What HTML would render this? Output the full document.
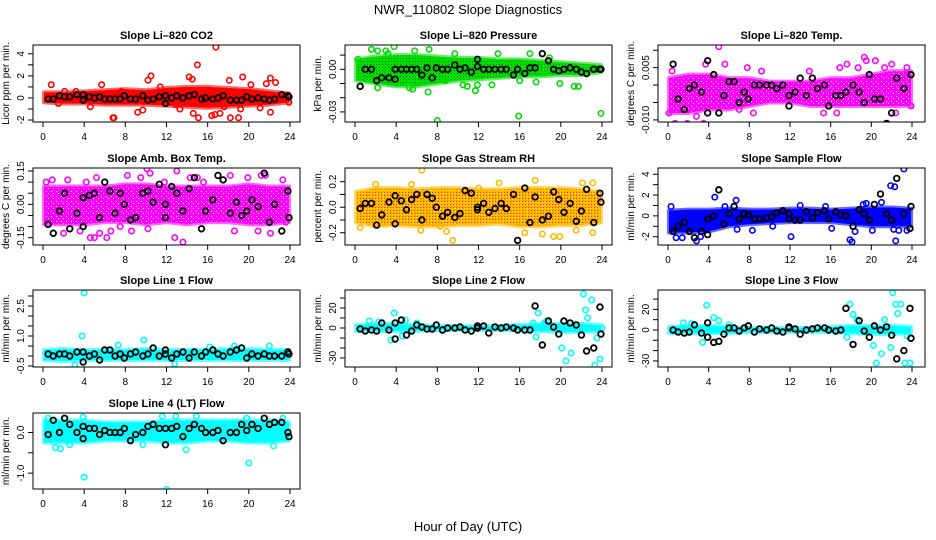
<!DOCTYPE html>
<html><head><meta charset="utf-8"><style>
html,body{margin:0;padding:0;background:#fff;}
svg{display:block;font-family:"Liberation Sans",sans-serif;}
</style></head><body>
<svg id="chart" width="936" height="540" viewBox="0 0 936 540" xmlns="http://www.w3.org/2000/svg">
<defs>
<pattern id="rhpat" width="3" height="3" patternUnits="userSpaceOnUse"><rect width="3" height="3" fill="#ffb300"/><rect x="0" y="0" width="1" height="1" fill="#ff2a00"/><rect x="2" y="1" width="1" height="1" fill="#ffff00"/></pattern>
<pattern id="grpat" width="3" height="3" patternUnits="userSpaceOnUse"><rect width="3" height="3" fill="#00dd00"/><rect x="1" y="1" width="1" height="1" fill="#007700"/></pattern>
<pattern id="mgpat" width="5" height="5" patternUnits="userSpaceOnUse"><rect width="5" height="5" fill="#ff00ff"/><rect x="1" y="1" width="1" height="1" fill="#ffffff"/><rect x="3" y="3" width="1" height="1" fill="#ffffff"/></pattern>
</defs>
<text x="468" y="14" text-anchor="middle" font-size="13">NWR_110802  Slope Diagnostics</text>
<text x="468" y="531" text-anchor="middle" font-size="13">Hour of Day (UTC)</text>
<g id="plots"></g>
</svg>
<script>
// shared sampling hours for black (hourly-average) points and band hours
const blackHours=[0.5,1.0,1.6,2.1,2.6,3.3,3.9,3.9,4.5,5.0,5.5,6.0,6.5,7.0,7.5,7.9,8.5,9.0,9.7,10.2,10.7,11.3,11.9,11.9,12.5,13.0,13.6,14.2,14.7,15.4,15.8,16.5,17.0,17.5,18.2,18.8,19.3,19.8,20.3,20.9,21.5,22.0,22.5,23.2,23.8,23.9];
const bandHours=[0.1,2,4,6,8,10,12,14,16,18,20,22,23.9];
const xTicks=[0,4,8,12,16,20,24];

// Panel 1: Li-820 CO2
const co2Low=[-0.4,-0.5,-0.5,-0.6,-0.6,-0.6,-0.7,-0.8,-0.9,-0.8,-0.7,-0.6,-0.4];
const co2High=[0.5,0.5,0.6,0.7,0.8,0.7,0.9,1.0,1.0,0.9,0.8,0.6,0.4];
const co2OutHours=[0.8,1.5,3.2,4.6,6.8,6.9,7.6,9.2,9.7,10.2,10.5,11.4,13.3,14.2,14.5,15.0,14.6,15.1,16.8,16.4,16.7,17.2,17.6,18.1,18.2,19.0,19.4,19.2,20.2,21.1,21.7,22.1,22.1,22.6,23.9,5.7,12.9,2.1];
const co2OutVals=[1.2,-0.5,0.6,-0.8,-1.8,-1.8,0.6,-1.3,-1.1,1.6,2.0,1.0,-1.0,1.9,1.7,3.0,-1.4,-1.8,4.6,-1.6,-1.5,-1.4,-0.8,1.6,-1.8,-1.8,1.9,-1.0,1.2,-0.9,1.3,1.8,-1.3,1.4,-0.4,1.2,-0.6,0.6];
const co2Black=[-0.1,-0.1,0.2,0.1,0.1,0.3,-0.2,0.3,0.1,0.0,0.1,-0.1,-0.1,-0.1,-0.1,0.2,-0.1,-0.1,0.2,-0.2,-0.1,0.1,-0.5,0.2,0.0,0.2,0.0,0.2,0.3,-0.1,0.0,-0.1,0.0,0.2,-0.2,-0.2,-0.2,0.1,-0.1,0.0,-0.1,-0.2,-0.1,0.3,0.2,0.1];

// Panel 2: Li-820 Pressure
const presLow=[-0.008,-0.01,-0.012,-0.012,-0.01,-0.008,-0.007,-0.006,-0.005,-0.005,-0.004,-0.004,-0.002];
const presHigh=[0.007,0.009,0.010,0.010,0.009,0.008,0.008,0.007,0.007,0.006,0.005,0.004,0.003];
const presOutHours=[0.5,0.8,1.6,2.2,2.2,3.0,3.2,3.8,3.9,5.3,5.6,5.8,7.1,7.2,8.0,8.8,9.7,10.5,10.9,11.7,11.9,13.3,13.9,15.9,16.0,17.0,17.6,18.9,19.9,21.3,21.7,23.9,0.3,2.5];
const presOutVals=[-0.012,-0.005,0.014,0.013,-0.013,0.013,0.011,0.016,-0.008,-0.013,-0.014,0.013,-0.016,0.014,-0.036,-0.008,0.011,-0.011,-0.012,-0.015,-0.011,-0.011,0.011,-0.033,-0.008,0.011,-0.009,0.008,-0.010,-0.012,-0.012,-0.031,0.007,-0.006];
const presBlack=[-0.012,0.0,0.0,-0.008,-0.006,-0.006,0.0,-0.007,0.0,0.0,0.0,0.0,-0.004,0.001,-0.006,0.001,0.0,0.0,0.003,0.0,0.001,-0.002,0.002,0.007,0.0,0.0,0.0,0.0,0.0,-0.004,0.0,-0.003,0.001,0.001,0.011,0.006,0.0,-0.001,0.0,0.001,0.0,-0.002,-0.003,0.0,0.0,0.0];

// Panel 3: Li-820 Temp
const tempLow=[-0.008,-0.008,-0.007,-0.007,-0.006,-0.005,-0.005,-0.006,-0.006,-0.006,-0.006,-0.006,-0.006];
const tempHigh=[0.002,0.003,0.003,0.002,0.002,0.001,0.001,0.001,0.002,0.002,0.003,0.004,0.004];
const tempOutHours=[0.4,0.7,1.2,1.9,2.8,3.5,3.7,4.3,5.0,5.6,7.0,7.8,8.4,9.2,13.9,16.9,17.6,18.7,19.3,19.5,20.4,21.3,22.0,22.4,23.5,23.9,0.1,15.3,16.6];
const tempOutVals=[0.004,-0.011,-0.013,-0.011,-0.009,-0.011,0.006,-0.012,0.011,0.006,-0.007,0.005,-0.008,0.004,0.004,0.005,0.006,0.005,0.008,0.007,0.007,0.005,0.006,-0.008,0.005,-0.006,-0.008,-0.008,-0.008];
const tempBlack=[0.006,-0.004,-0.007,-0.001,0.0,-0.002,0.007,-0.008,0.003,-0.008,-0.003,0.001,0.001,-0.005,-0.002,-0.004,0.0,0.0,0.0,0.0,-0.001,0.0,-0.006,-0.003,-0.002,0.002,-0.003,0.002,-0.001,0.0,-0.006,-0.003,-0.003,-0.002,0.0,-0.002,-0.005,0.003,-0.004,-0.004,-0.011,-0.008,0.002,-0.001,-0.012,0.003];

// Panel 4: Amb. Box Temp
const ambLow=[-0.09,-0.09,-0.09,-0.08,-0.08,-0.09,-0.08,-0.09,-0.08,-0.08,-0.09,-0.09,-0.08];
const ambHigh=[0.08,0.08,0.08,0.08,0.09,0.09,0.08,0.08,0.08,0.08,0.09,0.08,0.08];
const ambOutHours=[0.3,0.9,2.0,2.4,3.6,4.2,4.6,5.0,5.2,5.5,6.2,6.6,8.2,8.6,10.1,10.4,10.2,12.8,13.0,13.6,14.3,15.0,15.6,17.0,18.2,18.6,19.9,20.9,21.2,21.6,22.1,23.3,23.6,11.8,7.5,9.5];
const ambOutVals=[0.1,0.11,-0.13,0.11,-0.12,0.1,-0.15,-0.15,0.12,-0.13,-0.15,-0.12,0.13,-0.12,0.16,0.14,-0.11,-0.15,0.15,-0.17,0.12,0.12,0.1,-0.05,0.13,-0.12,0.12,-0.12,0.13,0.13,-0.13,0.11,-0.08,0.1,-0.1,0.12];
const ambBlack=[-0.09,-0.13,-0.03,0.05,-0.11,-0.04,-0.1,0.03,0.04,0.05,-0.06,0.1,0.06,-0.04,0.05,0.0,-0.07,-0.06,0.05,0.06,0.01,0.09,0.0,-0.06,0.08,0.05,-0.03,0.07,0.12,-0.11,-0.03,0.02,0.13,0.11,-0.04,0.01,-0.05,-0.03,0.02,-0.01,0.14,-0.08,0.0,-0.12,0.06,-0.06];

// Panel 5: Gas Stream RH
const rhLow=[-0.12,-0.15,-0.14,-0.15,-0.15,-0.14,-0.14,-0.13,-0.15,-0.15,-0.14,-0.14,-0.12];
const rhHigh=[0.12,0.15,0.15,0.14,0.15,0.15,0.14,0.14,0.15,0.15,0.15,0.14,0.12];
const rhOutHours=[6.5,9.5,6.4,2.0,8.3,8.9,14.0,17.5,18.2,19.3,19.9,22.1,23.1,23.1,0.5,5.5,12.0,16.5,21.5];
const rhOutVals=[0.29,-0.26,-0.18,0.18,-0.15,-0.19,0.19,0.21,-0.21,-0.23,-0.23,0.19,0.19,-0.2,-0.16,0.18,0.15,-0.2,-0.18];
const rhBlack=[-0.01,0.03,0.03,-0.14,-0.06,0.04,0.09,-0.13,0.05,-0.02,0.06,0.1,-0.1,0.1,0.07,0.0,-0.07,-0.04,-0.08,-0.05,0.13,0.11,-0.02,0.0,0.03,-0.04,-0.01,0.03,-0.01,0.1,-0.26,0.15,-0.12,0.08,-0.1,-0.07,0.12,0.06,-0.04,0.03,-0.11,-0.03,0.14,-0.12,0.11,0.04];

// Panel 6: Sample Flow
const sfLow=[-1.6,-1.6,-1.5,-1.0,-0.8,-0.7,-0.6,-0.6,-0.6,-0.8,-1.0,-1.0,-1.0];
const sfHigh=[0.5,0.6,0.6,0.7,0.6,0.6,0.7,0.7,0.6,0.7,0.8,0.8,0.7];
const sfOutHours=[0.3,0.8,1.4,2.8,3.2,4.6,5.6,6.7,6.8,8.3,10.3,12.1,16.1,17.9,18.1,18.4,19.2,19.5,20.1,21.0,21.9,22.3,22.4,22.2,22.7,23.2,23.5,15.5,13.0];
const sfOutVals=[0.9,-2.1,-2.1,-2.4,-2.0,1.8,0.9,1.5,-1.3,-1.4,-1.0,-2.0,-1.2,-2.3,-2.5,-1.5,1.1,1.2,-1.4,1.3,2.9,2.8,-2.4,-1.3,-1.4,4.5,-1.4,0.9,1.0];
const sfBlack=[-1.5,-1.0,-0.6,-1.5,-2.1,-1.5,-1.8,-0.3,0.0,2.5,-0.8,0.2,0.9,-0.3,0.2,0.1,-0.3,-0.3,-0.2,-0.1,0.3,0.5,-0.3,0.2,-0.4,-0.4,0.4,-0.2,0.3,0.5,-0.3,0.4,0.1,0.0,-1.0,0.6,0.2,-0.4,1.1,2.1,0.2,-0.4,3.6,0.2,-1.2,0.9];

// Panel 7: Line 1 Flow
const l1Low=[-0.2,-0.25,-0.2,-0.2,-0.2,-0.2,-0.2,-0.2,-0.2,-0.2,-0.2,-0.2,-0.2];
const l1High=[0.3,0.35,0.3,0.3,0.3,0.35,0.3,0.3,0.3,0.35,0.35,0.3,0.3];
const l1OutHours=[4.0,3.8,9.8,3.1,22.0,7.3,18.6,12.8,16.2];
const l1OutVals=[3.15,1.0,0.8,-0.45,0.5,0.55,0.5,-0.4,0.45];
const l1Black=[0.1,0.0,0.1,0.1,0.0,0.2,-0.3,0.2,0.0,0.1,-0.2,0.3,0.3,0.0,0.1,-0.1,0.1,0.2,0.0,0.1,0.4,0.0,0.1,0.3,-0.1,0.1,0.2,-0.1,0.2,0.0,0.2,0.3,0.1,0.0,0.2,0.3,0.4,-0.1,0.1,0.0,0.1,0.0,0.0,0.0,0.2,0.1];

// Panel 8: Line 2 Flow
const l2Low=[-3,-3,-3,-3,-2,-2,-2,-2,-2,-3,-4,-4,-3];
const l2High=[3,4,4,3,2,2,2,2,3,4,4,4,3];
const l2OutHours=[3.8,4.5,4.9,3.5,4.6,1.4,2.3,6.0,17.3,17.6,17.8,18.4,18.6,20.1,20.5,21.0,22.2,22.4,22.6,23.0,23.3,23.5,23.8,24.0];
const l2OutVals=[15,8,8,-12,-8,7,6,5,5,-9,15,5,7,-20,-33,-25,34,18,10,28,-37,-10,-31,0];
const l2Black=[-1,-3,-2,-3,5,-2,5,-11,8,-7,-3,3,1,-1,-1,3,-2,0,0,1,-2,-3,0,2,2,-5,1,0,1,0,-2,-2,-2,22,-17,7,1,-6,7,5,3,-7,-23,-20,21,-6];

// Panel 9: Line 3 Flow
const l3Low=[-3,-3,-3,-3,-2,-2,-2,-2,-2,-3,-4,-4,-3];
const l3High=[3,4,4,3,2,2,2,2,3,4,4,4,3];
const l3OutHours=[3.8,3.4,4.5,5.0,17.6,17.9,18.2,18.6,20.2,20.5,21.0,21.3,21.9,22.1,22.4,22.6,22.9,23.3,23.8,23.5,1.5,2.3,6.0];
const l3OutVals=[24,-12,12,9,-7,25,15,10,-15,-32,-23,10,-17,36,25,16,25,-32,-32,-6,7,6,5];
const l3Black=[0,-2,-3,-2,5,-3,7,-7,-12,-11,-4,2,2,-1,2,4,-2,1,0,2,-1,-2,2,3,1,-4,0,1,2,2,0,-1,0,21,-14,9,-1,-7,4,0,3,-5,-28,-20,21,-8];

// Panel 10: Line 4 (LT) Flow
const l4Low=[-0.25,-0.25,-0.25,-0.2,-0.2,-0.2,-0.25,-0.25,-0.2,-0.2,-0.25,-0.25,-0.2];
const l4High=[0.3,0.3,0.3,0.25,0.25,0.25,0.3,0.3,0.3,0.3,0.3,0.3,0.25];
const l4OutHours=[4.0,12.0,20.0,0.5,1.2,1.7,3.9,11.6,12.9,14.9,13.9,22.4,19.8,23.3,2.6,9.7];
const l4OutVals=[-1.1,-1.4,-0.75,0.35,-0.37,-0.4,0.38,0.4,0.4,0.4,-0.42,-0.33,0.35,0.35,-0.3,-0.3];
const l4Black=[-0.05,0.3,0.0,0.35,0.2,0.0,0.15,-0.15,0.1,0.1,-0.05,0.05,0.0,0.0,0.0,0.1,-0.2,-0.05,0.0,0.15,0.2,0.1,-0.3,0.1,0.1,0.15,-0.1,0.1,0.2,0.1,0.0,0.0,0.05,-0.2,0.0,0.0,0.2,0.05,0.2,0.1,0.35,0.2,0.25,0.25,0.0,-0.1];

const colX=[[33,300,43,290],[345,612,355,602],[658,925,668,912]];
const rowY=[[45,122],[168,245],[290,367],[413,489]];

const panels=[
 {key:'co2',title:'Slope Li\u2013820 CO2',ylab:'Licor ppm per min.',c:0,r:0,ylim:[-2.18,4.8],ticks:[-2,-1,0,1,2,3,4],labels:['-2','0','2','4'],labelVals:[-2,0,2,4],color:'#ff0000',fill:'#ff0000',low:co2Low,high:co2High,oh:co2OutHours,ov:co2OutVals,blk:co2Black},
 {key:'pressure',title:'Slope Li\u2013820 Pressure',ylab:'kPa per min.',c:1,r:0,ylim:[-0.0371,0.0171],ticks:[-0.03,-0.02,-0.01,0,0.01],labels:['0.00','-0.03'],labelVals:[0,-0.03],color:'#00dd00',fill:'url(#grpat)',low:presLow,high:presHigh,oh:presOutHours,ov:presOutVals,blk:presBlack},
 {key:'temp',title:'Slope Li\u2013820 Temp.',ylab:'degrees C per min.',c:2,r:0,ylim:[-0.0106,0.0115],ticks:[-0.01,-0.005,0,0.005,0.01],labels:['0.005','-0.010'],labelVals:[0.005,-0.01],color:'#ff00ff',fill:'url(#mgpat)',low:tempLow,high:tempHigh,oh:tempOutHours,ov:tempOutVals,blk:tempBlack},
 {key:'amb-temp',title:'Slope Amb. Box Temp.',ylab:'degrees C per min.',c:0,r:1,ylim:[-0.183,0.1635],ticks:[-0.15,-0.1,-0.05,0,0.05,0.1,0.15],labels:['-0.15','0.00','0.15'],labelVals:[-0.15,0,0.15],color:'#ff00ff',fill:'url(#mgpat)',low:ambLow,high:ambHigh,oh:ambOutHours,ov:ambOutVals,blk:ambBlack},
 {key:'rh',title:'Slope Gas Stream RH',ylab:'percent per min.',c:1,r:1,ylim:[-0.296,0.307],ticks:[-0.2,-0.1,0,0.1,0.2],labels:['-0.2','0.0','0.2'],labelVals:[-0.2,0,0.2],color:'#ffbb00',fill:'url(#rhpat)',low:rhLow,high:rhHigh,oh:rhOutHours,ov:rhOutVals,blk:rhBlack},
 {key:'sample-flow',title:'Slope Sample Flow',ylab:'ml/min per min.',c:2,r:1,ylim:[-2.8,4.6],ticks:[-2,-1,0,1,2,3,4],labels:['-2','0','2','4'],labelVals:[-2,0,2,4],color:'#0000ff',fill:'#0000ff',low:sfLow,high:sfHigh,oh:sfOutHours,ov:sfOutVals,blk:sfBlack},
 {key:'line1-flow',title:'Slope Line 1 Flow',ylab:'ml/min per min.',c:0,r:2,ylim:[-0.55,3.3],ticks:[-0.5,0,0.5,1,1.5,2,2.5,3],labels:['-0.5','1.0','2.5'],labelVals:[-0.5,1,2.5],color:'#00ffff',fill:'#00ffff',low:l1Low,high:l1High,oh:l1OutHours,ov:l1OutVals,blk:l1Black},
 {key:'line2-flow',title:'Slope Line 2 Flow',ylab:'ml/min per min.',c:1,r:2,ylim:[-39,38],ticks:[-30,-20,-10,0,10,20,30],labels:['-30','0','20'],labelVals:[-30,0,20],color:'#00ffff',fill:'#00ffff',low:l2Low,high:l2High,oh:l2OutHours,ov:l2OutVals,blk:l2Black},
 {key:'line3-flow',title:'Slope Line 3 Flow',ylab:'ml/min per min.',c:2,r:2,ylim:[-35.9,38.8],ticks:[-30,-20,-10,0,10,20,30],labels:['-30','0','20'],labelVals:[-30,0,20],color:'#00ffff',fill:'#00ffff',low:l3Low,high:l3High,oh:l3OutHours,ov:l3OutVals,blk:l3Black},
 {key:'line4-flow',title:'Slope Line 4 (LT) Flow',ylab:'ml/min per min.',c:0,r:3,ylim:[-1.39,0.48],ticks:[-1,-0.5,0],labels:['0.0','-1.0'],labelVals:[0,-1],color:'#00ffff',fill:'#00ffff',low:l4Low,high:l4High,oh:l4OutHours,ov:l4OutVals,blk:l4Black}
];

const NS='http://www.w3.org/2000/svg';
const root=document.getElementById('plots');
function mk(tag,attrs,parent){const e=document.createElementNS(NS,tag);for(const k in attrs)e.setAttribute(k,attrs[k]);parent.appendChild(e);return e;}

panels.forEach(p=>{
  const [bx0,bx1,dx0,dx1]=colX[p.c];
  const [by0,by1]=rowY[p.r];
  const xs=h=>dx0+(h/24)*(dx1-dx0);
  const ys=v=>by1-(v-p.ylim[0])/(p.ylim[1]-p.ylim[0])*(by1-by0);
  const g=mk('g',{},root);
  
  
  const clipId='clip-'+p.key;
  const cp=mk('clipPath',{id:clipId},g);
  mk('rect',{x:bx0,y:by0,width:bx1-bx0,height:by1-by0},cp);
  const t=mk('text',{x:(bx0+bx1)/2,y:by0-6,'text-anchor':'middle','font-size':'11','font-weight':'bold'},g);
  t.textContent=p.title;
  
  
  const dg=mk('g',{'clip-path':'url(#'+clipId+')'},g);
  let pts=bandHours.map((h,i)=>xs(h)+','+ys(p.high[i]));
  for(let i=bandHours.length-1;i>=0;i--)pts.push(xs(bandHours[i])+','+ys(p.low[i]));
  const band=mk('polygon',{points:pts.join(' '),fill:p.fill,stroke:p.color,'stroke-width':'4','stroke-opacity':'0.6','stroke-linejoin':'round'},dg);
  
  
  for(let i=0;i<Math.min(p.oh.length,p.ov.length);i++){
    const c=mk('circle',{cx:xs(p.oh[i]),cy:ys(p.ov[i]),r:2.7,fill:'none',stroke:p.color,'stroke-width':'1.6'},dg);
    
    
  }
  for(let i=0;i<Math.min(blackHours.length,p.blk.length);i++){
    const c=mk('circle',{cx:xs(blackHours[i]),cy:ys(p.blk[i]),r:2.8,fill:'none',stroke:'#000','stroke-width':'1.8'},dg);
    
    
  }
  const box=mk('rect',{x:bx0,y:by0,width:bx1-bx0,height:by1-by0,fill:'none',stroke:'#000','stroke-width':'1'},g);
  
  
  const xa=mk('g',{},g);
  
  
  mk('line',{x1:xs(0),x2:xs(24),y1:by1,y2:by1,stroke:'#000'},xa);
  xTicks.forEach(v=>{
    mk('line',{x1:xs(v),x2:xs(v),y1:by1,y2:by1+5,stroke:'#000'},xa);
    const tl=mk('text',{x:xs(v),y:by1+18,'text-anchor':'middle','font-size':'10'},xa);
    tl.textContent=v;
  });
  const ya=mk('g',{},g);
  
  
  const tmin=Math.min(...p.ticks),tmax=Math.max(...p.ticks);
  mk('line',{x1:bx0,x2:bx0,y1:ys(tmin),y2:ys(tmax),stroke:'#000'},ya);
  p.ticks.forEach(v=>mk('line',{x1:bx0-5,x2:bx0,y1:ys(v),y2:ys(v),stroke:'#000'},ya));
  p.labelVals.forEach((v,i)=>{
    const lx=bx0-9,ly=ys(v);
    const tl=mk('text',{x:lx,y:ly,'text-anchor':'middle','font-size':'10',transform:'rotate(-90 '+lx+' '+ly+')'},ya);
    tl.textContent=p.labels[i];
  });
  const yx=bx0-24,yy=(by0+by1)/2;
  const yt=mk('text',{x:yx,y:yy,'text-anchor':'middle','font-size':'10',transform:'rotate(-90 '+yx+' '+yy+')'},ya);
  yt.textContent=p.ylab;
  
  
});
</script>
</body></html>
